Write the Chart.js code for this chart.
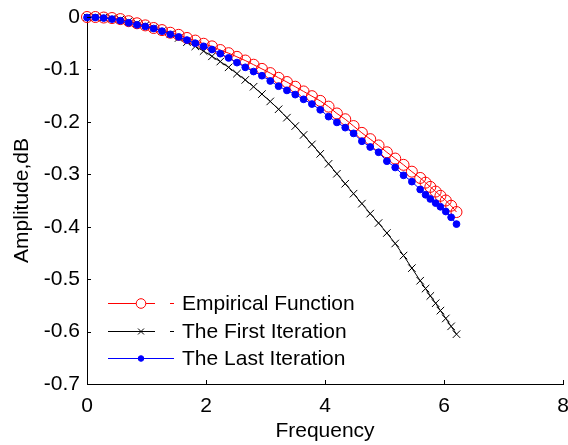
<!DOCTYPE html>
<html>
<head>
<meta charset="utf-8">
<script src="https://cdn.jsdelivr.net/npm/chart.js@4.4.1/dist/chart.umd.min.js"></script>
<style>
  html, body { margin: 0; padding: 0; background: #fff; }
  #wrap { width: 568px; height: 445px; }
</style>
</head>
<body>
<div id="wrap"><canvas id="chart"></canvas></div>
<script>
// frequency samples (denser near the end)
const freq = [0, 0.14, 0.28, 0.42, 0.56, 0.70, 0.84, 0.98, 1.12, 1.26, 1.40, 1.54, 1.68, 1.82, 1.96, 2.10,
  2.24, 2.38, 2.52, 2.66, 2.80, 2.94, 3.08, 3.22, 3.36, 3.50, 3.64, 3.78, 3.92, 4.06, 4.20, 4.34,
  4.48, 4.62, 4.76, 4.90, 5.04, 5.18, 5.32, 5.46, 5.60, 5.69, 5.77, 5.86, 5.94, 6.03, 6.12, 6.21];

const empirical = [0, 0, -0.001, -0.002, -0.004, -0.008, -0.012, -0.016, -0.021, -0.025, -0.030, -0.034, -0.040, -0.045, -0.051, -0.056,
  -0.063, -0.069, -0.076, -0.083, -0.091, -0.099, -0.107, -0.116, -0.124, -0.133, -0.142, -0.151, -0.160, -0.171, -0.184, -0.195,
  -0.208, -0.221, -0.233, -0.245, -0.258, -0.270, -0.282, -0.295, -0.307, -0.316, -0.324, -0.333, -0.341, -0.350, -0.360, -0.372];

const firstIter = [0, 0, -0.001, -0.003, -0.005, -0.008, -0.012, -0.016, -0.021, -0.027, -0.033, -0.040, -0.048, -0.056, -0.065, -0.075,
  -0.085, -0.096, -0.108, -0.120, -0.133, -0.147, -0.161, -0.176, -0.192, -0.208, -0.225, -0.243, -0.261, -0.280, -0.299, -0.318,
  -0.337, -0.356, -0.375, -0.393, -0.412, -0.432, -0.455, -0.479, -0.503, -0.518, -0.532, -0.546, -0.560, -0.575, -0.590, -0.605];

const lastIter = [-0.001, -0.001, -0.002, -0.004, -0.007, -0.011, -0.015, -0.018, -0.022, -0.027, -0.033, -0.038, -0.044, -0.050, -0.056, -0.062,
  -0.070, -0.078, -0.087, -0.096, -0.104, -0.112, -0.122, -0.132, -0.140, -0.148, -0.157, -0.166, -0.177, -0.190, -0.201, -0.211,
  -0.222, -0.237, -0.248, -0.258, -0.275, -0.287, -0.302, -0.314, -0.329, -0.339, -0.347, -0.355, -0.362, -0.371, -0.382, -0.395];

const seriesNames = ['Empirical Function', 'The First Iteration', 'The Last Iteration'];
const xTicks = [0, 2, 4, 6, 8];
const yTicks = [0, -0.1, -0.2, -0.3, -0.4, -0.5, -0.6, -0.7];

const FONT = "'Liberation Sans', Arial, sans-serif";
Chart.defaults.font.family = FONT;
Chart.defaults.font.size = 21;
Chart.defaults.color = '#000';

function pts(ys) {
  return freq.map((f, i) => ({x: f, y: ys[i]}));
}

function noPad(s) {
  s.paddingLeft = 0;
  s.paddingRight = 0;
  s.paddingTop = 0;
  s.paddingBottom = 0;
}

// MATLAB-style ticks pointing into the axes
const innerTicks = {
  id: 'innerTicks',
  afterDraw(chart) {
    const {ctx, chartArea: a, scales: {x, y}} = chart;
    ctx.save();
    ctx.strokeStyle = '#000';
    ctx.lineWidth = 1;
    ctx.beginPath();
    xTicks.forEach(v => {
      const px = Math.round(x.getPixelForValue(v)) + 0.5;
      ctx.moveTo(px, a.bottom);
      ctx.lineTo(px, a.bottom - 4);
    });
    yTicks.forEach(v => {
      const py = Math.round(y.getPixelForValue(v)) + 0.5;
      ctx.moveTo(a.left, py);
      ctx.lineTo(a.left + 4, py);
    });
    ctx.stroke();
    ctx.restore();
  }
};

// legend drawn inside the plot, lower left
const insideLegend = {
  id: 'insideLegend',
  afterDraw(chart) {
    const {ctx, chartArea: a} = chart;
    const x0 = a.left + 21;
    const rows = [a.top + 286, a.top + 314, a.top + 341];
    ctx.save();
    chart.data.datasets.forEach((ds, i) => {
      const y = rows[i];
      ctx.strokeStyle = ds.borderColor;
      ctx.lineWidth = 1;
      ctx.beginPath();
      if (i < 2) {
        ctx.moveTo(x0, y + 0.5); ctx.lineTo(x0 + 47, y + 0.5);
        ctx.moveTo(x0 + 62, y + 0.5); ctx.lineTo(x0 + 66, y + 0.5);
      } else {
        ctx.moveTo(x0, y + 0.5); ctx.lineTo(x0 + 66, y + 0.5);
      }
      ctx.stroke();
      ctx.fillStyle = i === 0 ? '#fff' : ds.pointBackgroundColor;
      ctx.strokeStyle = ds.pointBorderColor;
      Chart.helpers.drawPoint(ctx, {
        pointStyle: ds.pointStyle,
        radius: i === 0 ? 4.8 : (i === 1 ? 4.2 : 2.8),
        borderWidth: 1,
        rotation: 0
      }, x0 + 33, y + 0.5);
      ctx.fillStyle = '#000';
      ctx.font = '21px ' + FONT;
      ctx.textBaseline = 'middle';
      ctx.textAlign = 'left';
      ctx.fillText(seriesNames[i], a.left + 95, y + 1);
    });
    ctx.restore();
  }
};

new Chart(document.getElementById('chart'), {
  type: 'line',
  data: {
    datasets: [{
      label: seriesNames[0],
      data: pts(empirical),
      borderColor: '#ff0000',
      borderWidth: 1,
      pointStyle: 'circle',
      pointRadius: 5.5,
      pointBorderWidth: 1,
      pointBorderColor: '#ff0000',
      pointBackgroundColor: 'rgba(0,0,0,0)',
      fill: false,
      clip: false,
      order: 1
    }, {
      label: seriesNames[1],
      data: pts(firstIter),
      borderColor: '#000000',
      borderWidth: 1,
      pointStyle: 'crossRot',
      pointRadius: 5.3,
      pointBorderWidth: 1,
      pointBorderColor: '#000000',
      pointBackgroundColor: '#000000',
      fill: false,
      clip: false,
      order: 2
    }, {
      label: seriesNames[2],
      data: pts(lastIter),
      borderColor: '#0000ff',
      borderWidth: 1,
      pointStyle: 'circle',
      pointRadius: 3.4,
      pointBorderWidth: 1,
      pointBorderColor: '#0000ff',
      pointBackgroundColor: '#0000ff',
      fill: false,
      clip: false,
      order: 0
    }]
  },
  options: {
    responsive: true,
    maintainAspectRatio: false,
    animation: false,
    events: [],
    layout: {
      autoPadding: false,
      padding: {top: 17, right: 5, left: 0, bottom: 0}
    },
    plugins: {
      legend: {display: false},
      tooltip: {enabled: false}
    },
    scales: {
      x: {
        type: 'linear',
        min: 0,
        max: 8,
        afterBuildTicks: s => { s.ticks = xTicks.map(v => ({value: v})); },
        afterFit: s => { s.height = 61; noPad(s); },
        grid: {display: true, drawOnChartArea: false, drawTicks: false},
        border: {display: true, color: '#000', width: 1},
        ticks: {padding: 10, maxRotation: 0, autoSkip: false, color: '#000'},
        title: {display: true, text: 'Frequency', color: '#000', padding: {top: 0, bottom: 1}}
      },
      y: {
        type: 'linear',
        min: -0.7,
        max: 0,
        afterBuildTicks: s => { s.ticks = yTicks.map(v => ({value: v})); },
        afterFit: s => { s.width = 87; noPad(s); },
        grid: {display: true, drawOnChartArea: false, drawTicks: false},
        border: {display: true, color: '#000', width: 1},
        ticks: {padding: 7, autoSkip: false, color: '#000'},
        title: {display: true, text: 'Amplitude,dB', color: '#000', padding: {top: 10, bottom: 0}}
      }
    }
  },
  plugins: [innerTicks, insideLegend]
});
</script>
</body>
</html>
